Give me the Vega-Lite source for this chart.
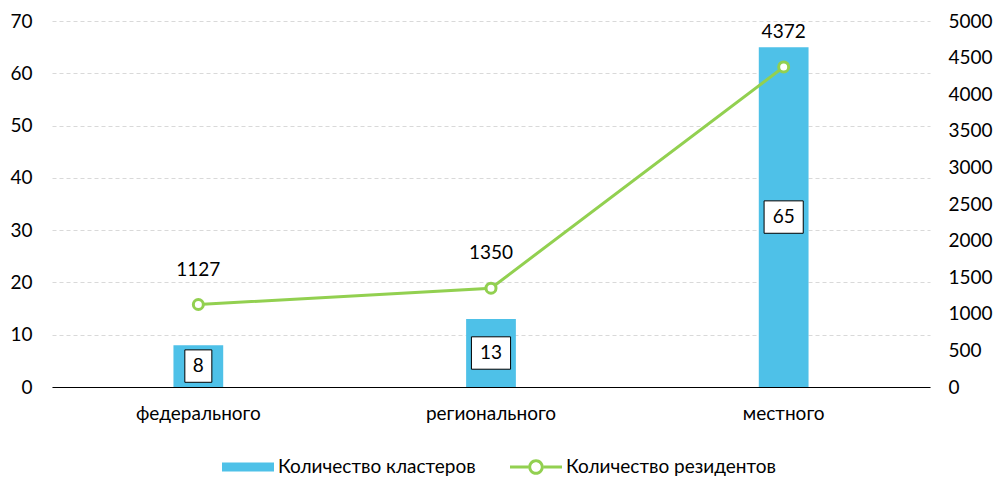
{
  "$schema": "https://vega.github.io/schema/vega-lite/v6.json",
  "width": 878,
  "height": 366,
  "autosize": {"type": "none"},
  "padding": {"left": 52, "top": 21, "right": 64, "bottom": 93},
  "background": "white",
  "config": {
    "font": "Lato",
    "view": {"stroke": null},
    "axis": {"labelFont": "Lato", "labelFontSize": 19, "labelColor": "#000000"}
  },
  "data": {
    "values": [
      {"level": "федерального", "clusters": 8, "residents": 1127},
      {"level": "регионального", "clusters": 13, "residents": 1350},
      {"level": "местного", "clusters": 65, "residents": 4372}
    ]
  },
  "encoding": {
    "x": {
      "field": "level",
      "type": "nominal",
      "sort": null,
      "scale": {"paddingInner": 0.83, "paddingOuter": 0.415},
      "axis": {
        "title": null,
        "labelAngle": 0,
        "labelPadding": 17,
        "ticks": false,
        "domain": true,
        "domainColor": "#000000",
        "domainWidth": 1,
        "grid": false
      }
    }
  },
  "layer": [
    {
      "encoding": {
        "y": {
          "type": "quantitative",
          "scale": {"domain": [0, 70], "nice": false},
          "axis": {
            "title": null,
            "orient": "left",
            "values": [0, 10, 20, 30, 40, 50, 60, 70],
            "ticks": false,
            "domain": false,
            "labelPadding": 20,
            "grid": true,
            "gridColor": "#d9d9d9",
            "gridDash": [4, 3],
            "gridWidth": 1
          }
        }
      },
      "layer": [
        {
          "mark": {"type": "bar"},
          "encoding": {
            "y": {"field": "clusters", "type": "quantitative"},
            "color": {
              "datum": "Количество кластеров",
              "type": "nominal",
              "scale": {
                "domain": ["Количество кластеров", "Количество резидентов"],
                "range": ["#4ec1e8", "#92d050"]
              },
              "legend": {
                "title": null,
                "orient": "none",
                "direction": "horizontal",
                "legendX": 183,
                "legendY": 433,
                "labelFont": "Lato",
                "labelFontSize": 19,
                "labelColor": "#000000",
                "labelLimit": 400,
                "labelOffset": 17,
                "columnPadding": 34,
                "symbolSize": 676,
                "symbolStrokeWidth": 0,
                "encode": {
                  "symbols": {
                    "update": {
                      "shape": {"signal": "datum.value === 'Количество кластеров' ? 'M-2,-0.35H2V0.35H-2Z' : 'M-2,-0.115H-0.6V0.115H-2Z M0.6,-0.115H2V0.115H0.6Z M0.6,0A0.6,0.6 0 1,1 -0.6,0A0.6,0.6 0 1,1 0.6,0Z M0.37,0A0.37,0.37 0 1,0 -0.37,0A0.37,0.37 0 1,0 0.37,0Z'"},
                      "strokeWidth": {"value": 0},
                      "size": {"value": 676}
                    }
                  }
                }
              }
            }
          }
        },
        {
          "transform": [
            {"calculate": "length(toString(datum.clusters))", "as": "digits"},
            {"calculate": "datum.clusters / 2", "as": "mid"}
          ],
          "mark": {"type": "point", "filled": true, "fill": "#ffffff", "stroke": "#000000", "strokeWidth": 1, "size": 729, "opacity": 1},
          "encoding": {
            "y": {"field": "mid", "type": "quantitative"},
            "shape": {
              "field": "digits",
              "type": "nominal",
              "scale": {"domain": [1, 2], "range": ["M-1,-1.2H1V1.2H-1Z", "M-1.45,-1.2H1.45V1.2H-1.45Z"]},
              "legend": null
            }
          }
        },
        {
          "transform": [{"calculate": "datum.clusters / 2", "as": "mid"}],
          "mark": {"type": "text", "fontSize": 19, "font": "Lato", "color": "#000000", "baseline": "middle"},
          "encoding": {
            "y": {"field": "mid", "type": "quantitative"},
            "text": {"field": "clusters", "type": "quantitative"}
          }
        }
      ]
    },
    {
      "encoding": {
        "y": {
          "field": "residents",
          "type": "quantitative",
          "scale": {"domain": [0, 5000], "nice": false},
          "axis": {
            "title": null,
            "orient": "right",
            "format": "d",
            "values": [0, 500, 1000, 1500, 2000, 2500, 3000, 3500, 4000, 4500, 5000],
            "ticks": false,
            "domain": false,
            "grid": false,
            "labelPadding": 18
          }
        }
      },
      "layer": [
        {
          "mark": {
            "type": "line",
            "strokeWidth": 3,
            "point": {"filled": false, "fill": "#ffffff", "size": 100, "strokeWidth": 3}
          },
          "encoding": {
            "color": {"datum": "Количество резидентов", "type": "nominal"}
          }
        },
        {
          "mark": {"type": "text", "fontSize": 19, "font": "Lato", "color": "#000000", "dy": -35, "baseline": "middle"},
          "encoding": {
            "text": {"field": "residents", "type": "quantitative", "format": "d"}
          }
        }
      ]
    }
  ],
  "resolve": {"scale": {"y": "independent"}}
}
